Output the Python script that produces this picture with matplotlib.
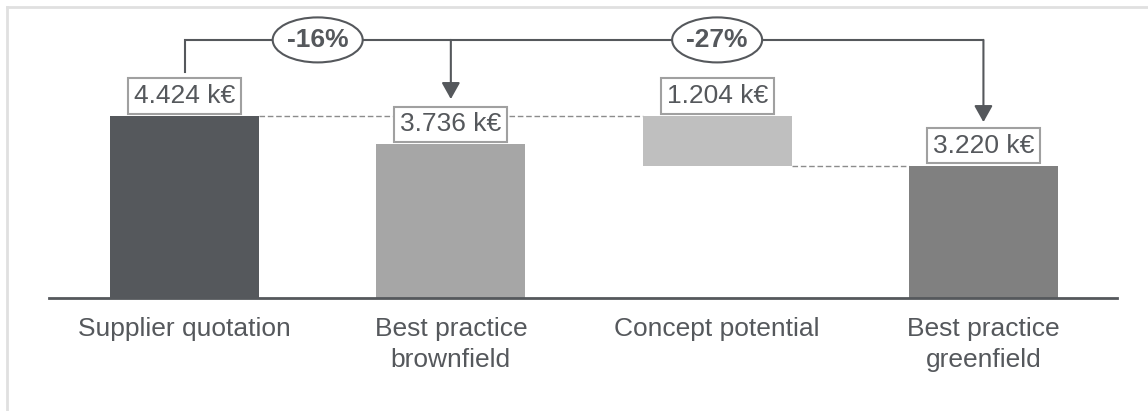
import matplotlib
matplotlib.use("Agg")
import matplotlib.pyplot as plt
from matplotlib.patches import Ellipse
from matplotlib.lines import Line2D

plt.rcParams['font.family'] = ['Liberation Sans', 'DejaVu Sans']

# data
categories = ["Supplier quotation", "Best practice\nbrownfield",
              "Concept potential", "Best practice\ngreenfield"]
values = [4.424, 3.736, 1.204, 3.220]
changes = ["-16%", "-27%"]
colors = ["#55585c", "#a6a6a6", "#bfbfbf", "#808080"]

x = list(range(len(values)))
bottoms = [0, 0, values[0] - values[2], 0]
tops = [b + v for b, v in zip(bottoms, values)]
dark = "#55585c"

fig = plt.figure(figsize=(11.48, 4.11), dpi=100)
ax = fig.add_axes([0, 0, 1, 1])
ax.set_xlim(-0.693, 3.618)
ax.set_ylim(-2.749, 7.251)
ax.axis("off")

# frame lines (top and left)
fig.add_artist(Line2D([0.006, 1], [0.982, 0.982], transform=fig.transFigure,
                      color="#e0e0e0", lw=2))
fig.add_artist(Line2D([0.0065, 0.0065], [0, 0.982], transform=fig.transFigure,
                      color="#e0e0e0", lw=2))

w = 0.56
ax.bar(x, values, bottom=bottoms, width=w, color=colors, zorder=2)
ax.plot([-0.51, 3.5], [0, 0], color=dark, lw=2, zorder=3)

# dashed connectors
ax.plot([x[0] + w / 2, x[2] - w / 2], [tops[0], tops[0]], ls=(0, (4, 2)),
        color="#8c8c8c", lw=1, zorder=1)
ax.plot([x[2] + w / 2, x[3] - w / 2], [bottoms[2], bottoms[2]], ls=(0, (4, 2)),
        color="#8c8c8c", lw=1, zorder=1)

# value boxes
for xi, t, v in zip(x, tops, values):
    ax.annotate(f"{v:.3f} k€", (xi, t), xytext=(0, 14.5), textcoords="offset points",
                ha="center", va="center", fontsize=19, color=dark, zorder=5,
                bbox=dict(boxstyle="square,pad=0.22", fc="white", ec="#a0a0a0", lw=1.5))

# category labels
for xi, c in zip(x, categories):
    ax.text(xi, -0.47, c, ha="center", va="top", fontsize=19, color=dark,
            linespacing=1.35)

# bracket
bracket_y = 6.28
ax.plot([x[0], x[0], x[3]], [5.5, bracket_y, bracket_y], color=dark, lw=1.5,
        zorder=3, solid_joinstyle="miter")
for xi, tip in [(x[1], 4.84), (x[3], 4.28)]:
    ax.annotate("", xy=(xi, tip), xytext=(xi, bracket_y),
                arrowprops=dict(arrowstyle="-|>,head_length=0.5,head_width=0.28",
                                mutation_scale=20, color=dark, lw=1.5,
                                shrinkA=0, shrinkB=0), zorder=4)

for cx, lab in zip([0.5, 2.0], changes):
    ax.add_patch(Ellipse((cx, bracket_y), 0.338, 1.095, fc="white", ec=dark,
                         lw=1.5, zorder=6))
    ax.text(cx, bracket_y, lab, ha="center", va="center", fontsize=19,
            fontweight="bold", color=dark, zorder=7)

fig.savefig("out.png", dpi=100)
